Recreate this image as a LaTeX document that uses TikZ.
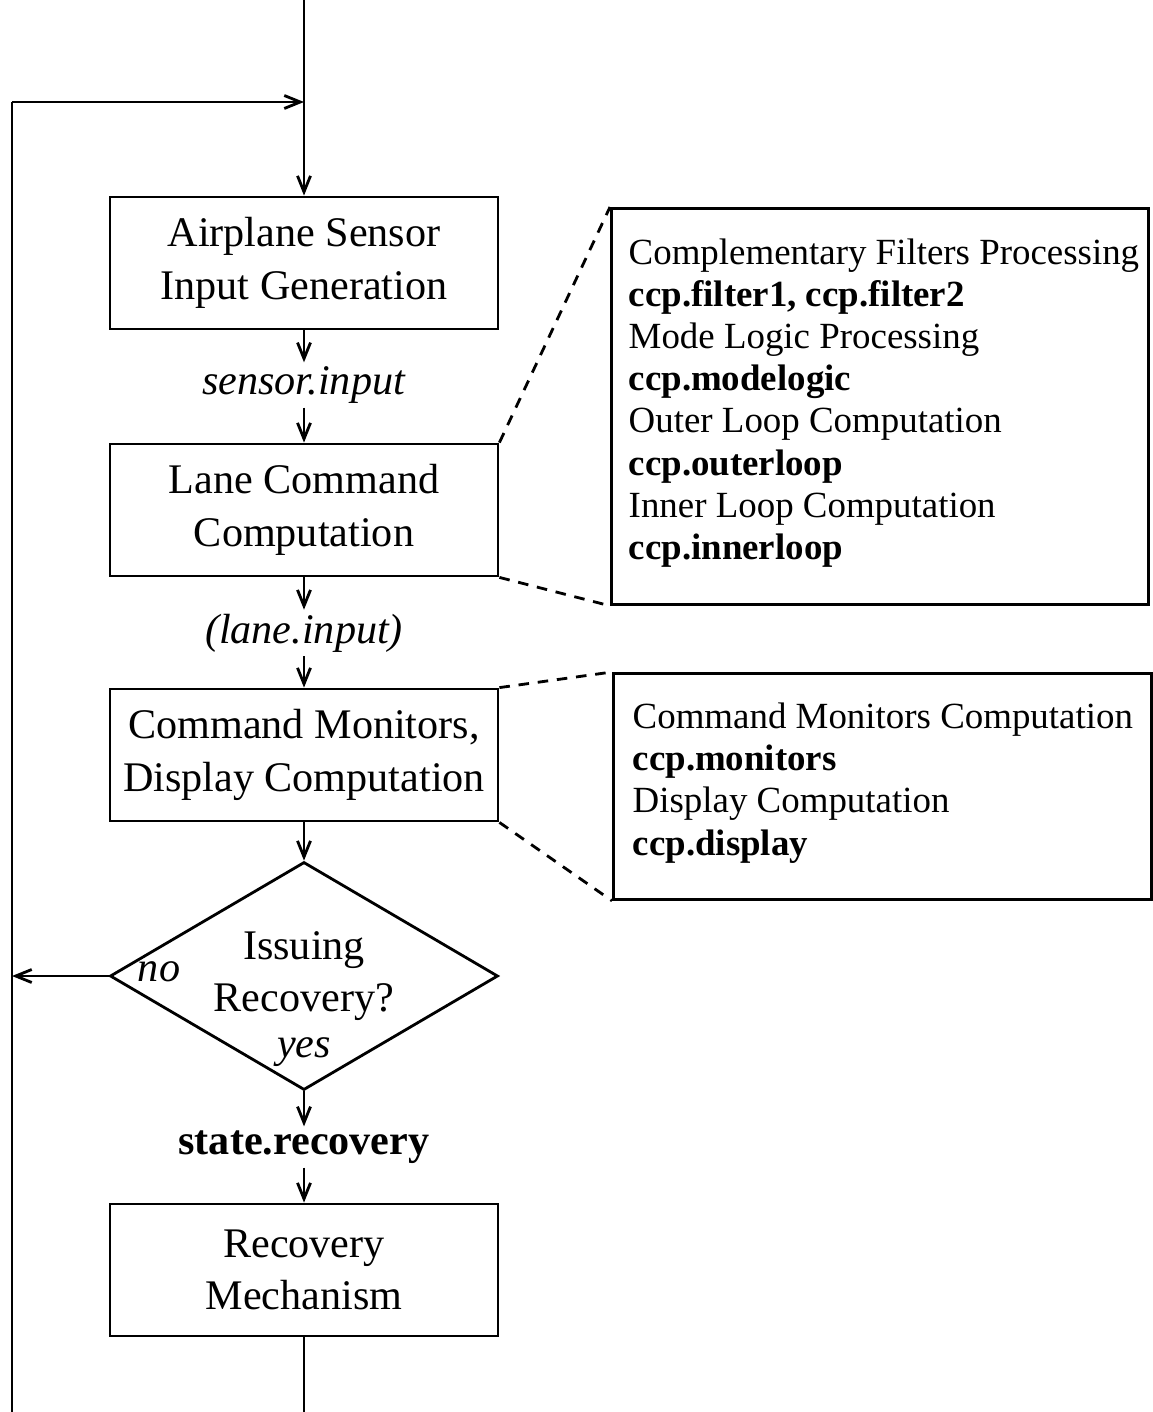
\documentclass[tikz,border=0pt]{standalone}
\usepackage{fontspec}
\setmainfont{Liberation Serif}
\usetikzlibrary{shapes.geometric,arrows.meta}
\tikzset{
  stage/.style={draw,line width=0.8pt,minimum width=3.88cm,minimum height=1.32cm,align=center,font=\fontsize{12}{15}\selectfont},
  decision/.style={draw,diamond,aspect=1.7,inner sep=0pt,line width=0.8pt,minimum width=3.88cm,minimum height=2.28cm,align=center,font=\fontsize{12}{15}\selectfont},
  signal/.style={inner sep=1pt,font=\fontsize{12}{15}\selectfont},
  branch/.style={inner sep=0pt,font=\fontsize{12}{15}\selectfont\itshape},
  detail/.style={draw,line width=0.8pt,anchor=north west},
  detailtext/.style={anchor=west,align=left,inner sep=0pt,font=\fontsize{10.5}{12}\selectfont},
  flow/.style={line width=0.8pt,-{Straight Barb[length=1.6mm,width=1.3mm]}},
  zoomline/.style={line width=0.8pt,dash pattern=on 3pt off 2.5pt}
}

\begin{document}
\begin{tikzpicture}
    \useasboundingbox (0,0) rectangle (11.53,-14.12);

    % — Main chain of stages
    \node [stage] (sensor) at (3.04, -2.63) {Airplane Sensor\\Input Generation};
    \node [stage] (lane)   at (3.04, -5.10) {Lane Command\\Computation};
    \node [stage] (mon)    at (3.04, -7.55) {Command Monitors,\\Display Computation};
    \node [decision] (issue) at (3.04, -9.76) {Issuing\\Recovery?};
    \node [stage] (rec)    at (3.04, -12.70) {Recovery\\Mechanism};

    % — Data passed between stages
    \node [signal] (sin)  at (3.04, -3.85)  {\textit{sensor.input}};
    \node [signal] (lin)  at (3.04, -6.33)  {\textit{(lane.input)}};
    \node [signal] (srec) at (3.04, -11.47) {\textbf{state.recovery}};

    % — Branch labels on the decision
    \node [branch] (noLbl)  at (1.59, -9.72)  {no};
    \node [branch] (yesLbl) at (3.04, -10.52) {yes};

    % — Detail boxes
    \node [detail, minimum width=5.37cm, minimum height=3.96cm] (detA) at (6.10, -2.07) {};
    \node [detailtext] (detAtext) at (6.28, -4.03) {%
      Complementary Filters Processing\\
      \textbf{ccp.filter1, ccp.filter2}\\
      Mode Logic Processing\\
      \textbf{ccp.modelogic}\\
      Outer Loop Computation\\
      \textbf{ccp.outerloop}\\
      Inner Loop Computation\\
      \textbf{ccp.innerloop}};
    \node [detail, minimum width=5.38cm, minimum height=2.26cm] (detB) at (6.12, -6.72) {};
    \node [detailtext] (detBtext) at (6.32, -7.83) {%
      Command Monitors Computation\\
      \textbf{ccp.monitors}\\
      Display Computation\\
      \textbf{ccp.display}};

    % — Loop coordinates
    \coordinate (entry)  at (3.04, 0);
    \coordinate (join)   at (3.04, -1.02);
    \coordinate (fbTop)  at (0.12, -1.02);
    \coordinate (fbNo)   at (0.12, -9.76);
    \coordinate (fbBot)  at (0.12, -14.12);
    \coordinate (exit)   at (3.04, -14.12);

    % — Flow
    \draw [flow] (entry) -- (sensor);
    \draw [flow] (sensor) -- (sin);
    \draw [flow] (sin) -- (lane);
    \draw [flow] (lane) -- (lin);
    \draw [flow] (lin) -- (mon);
    \draw [flow] (mon) -- (issue);
    \draw [flow] (issue) -- (srec);
    \draw [flow] (srec) -- (rec);
    \draw [line width=0.8pt] (rec) -- (exit);

    % — Feedback loop
    \draw [line width=0.8pt] (fbBot) -- (fbTop);
    \draw [flow] (fbTop) -- (join);
    \draw [flow] (issue.west) -- (fbNo);

    % — Zoom lines to the details
    \draw [zoomline] (lane.north east) -- (detA.north west);
    \draw [zoomline] (lane.south east) -- (detA.south west);
    \draw [zoomline] (mon.north east) -- (detB.north west);
    \draw [zoomline] (mon.south east) -- (detB.south west);
\end{tikzpicture}
\end{document}
